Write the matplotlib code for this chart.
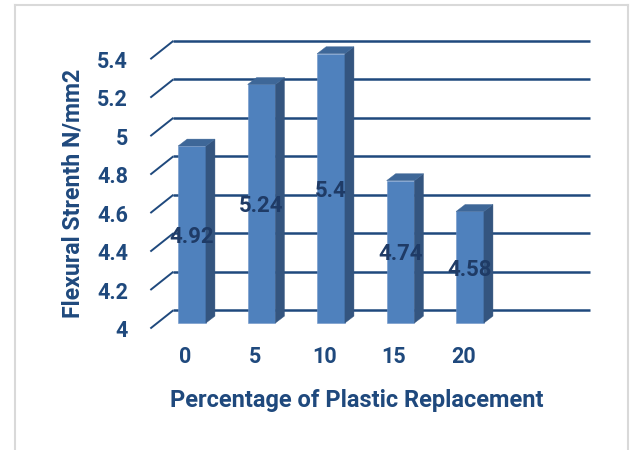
import matplotlib
matplotlib.use('Agg')
import matplotlib.pyplot as plt
from matplotlib.patches import Polygon
from matplotlib.lines import Line2D

# Datos del ensayo de flexion
porcentajes = ['0', '5', '10', '15', '20']
resistencia = [4.92, 5.24, 5.4, 4.74, 4.58]
marcas_y = [4, 4.2, 4.4, 4.6, 4.8, 5, 5.2, 5.4]
etiquetas_y = ['4', '4.2', '4.4', '4.6', '4.8', '5', '5.2', '5.4']

# Colores estilo Excel
azul_frente = '#4F81BD'
azul_lado = '#34557F'
azul_techo = '#3E6798'
azul_linea = '#1F497D'
azul_texto = '#1F497D'
azul_valor = '#1F3B66'

plt.rcParams['font.family'] = ['Roboto', 'DejaVu Sans']

fig = plt.figure(figsize=(6.33, 4.5), dpi=100)
ax = fig.add_axes([0, 0, 1, 1])
ax.set_xlim(-2.7626, 6.345)
ax.set_ylim(3.340, 5.679)
ax.axis('off')

# Profundidad de la pared y de las barras (efecto 3D)
pared_dx, pared_dy = 0.331, 0.095
frente = 0.3
barra_dx, barra_dy = 0.13, 0.036
ancho = 0.4
n_slots = 6

# Lineas de cuadricula en la pared del fondo y diagonales del costado
for v in marcas_y:
    xa = -0.5 - frente * pared_dx
    ya = v - frente * pared_dy
    xb = -0.5 + (1 - frente) * pared_dx
    yb = v + (1 - frente) * pared_dy
    xc = n_slots - 0.5 + (1 - frente) * pared_dx
    ax.plot([xa, xb], [ya, yb], color=azul_linea, lw=1.4, zorder=1,
            solid_capstyle='butt')
    ax.plot([xb, xc], [yb, yb], color=azul_linea, lw=1.8, zorder=1,
            solid_capstyle='butt')

# Etiquetas del eje vertical
for v, t in zip(marcas_y, etiquetas_y):
    ax.text(-0.921, v - 0.042, t, ha='right', va='center', fontsize=15.5,
            fontweight='bold', color=azul_texto)

# Barras con cara frontal, lateral y superior
for i, v in enumerate(resistencia):
    x0 = i - ancho / 2
    x1 = i + ancho / 2
    ax.bar(i, v - 4, bottom=4, width=ancho, color=azul_frente,
           edgecolor='#6F95C8', linewidth=0.4, zorder=3)
    lado = Polygon([(x1, 4), (x1 + barra_dx, 4 + barra_dy),
                    (x1 + barra_dx, v + barra_dy), (x1, v)],
                   closed=True, facecolor=azul_lado, edgecolor=azul_lado,
                   lw=0.3, zorder=3)
    techo = Polygon([(x0, v), (x1, v), (x1 + barra_dx, v + barra_dy),
                     (x0 + barra_dx, v + barra_dy)],
                    closed=True, facecolor=azul_techo, edgecolor=azul_techo,
                    lw=0.3, zorder=3)
    ax.add_patch(lado)
    ax.add_patch(techo)
    ax.text(i, (4 + v) / 2 - 0.012, f'{v:g}', ha='center', va='center',
            fontsize=16, fontweight='bold', color=azul_valor, zorder=4)

# Etiquetas de categorias
for i, t in enumerate(porcentajes):
    ax.text(i - frente * pared_dx, 3.823, t, ha='center', va='center',
            fontsize=15.5, fontweight='bold', color=azul_texto)

# Titulos de los ejes
fig.text(357 / 633, 1 - 401 / 450, 'Percentage of Plastic Replacement',
         ha='center', va='center', fontsize=17, fontweight='bold',
         color=azul_texto)
fig.text(73 / 633, 1 - 193 / 450, 'Flexural Strenth N/mm2', rotation=90,
         ha='center', va='center', fontsize=16.7, fontweight='bold',
         color=azul_texto)

# Marco gris del grafico
borde = dict(color='#D9D9D9', lw=1.5, transform=fig.transFigure)
fig.add_artist(Line2D([15 / 633, 15 / 633], [0, 1 - 5 / 450], **borde))
fig.add_artist(Line2D([15 / 633, 628 / 633], [1 - 5 / 450, 1 - 5 / 450], **borde))
fig.add_artist(Line2D([628 / 633, 628 / 633], [0, 1 - 5 / 450], **borde))

fig.savefig('out.png', dpi=100, facecolor='white')
